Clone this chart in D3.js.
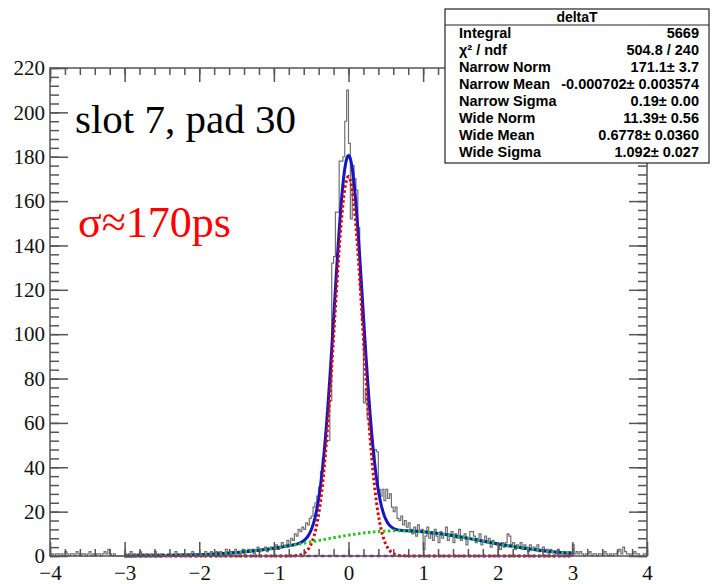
<!DOCTYPE html>
<html>
<head>
<meta charset="utf-8">
<script src="https://cdn.jsdelivr.net/npm/d3@7"></script>
<style>
  body { margin: 0; background: #fff; }
  svg { display: block; }
</style>
</head>
<body>
<div id="canvas"></div>
<script>
// --- data
// histogram counts, 40 bins of 0.025 per unit, from -4 to 4
var binWidth = 0.025;
var countsM4 = [0,1,0,1,1,0,1,0,2,1, 0,1,1,0,2,1,0,1,1,0, 1,2,0,1,0,1,1,0,1,2, 1,3,1,0,1,0,0,0,0,0];
var countsM3 = [1,0,1,2,1,1,0,1,2,1, 0,1,1,0,1,0,2,1,0,1, 1,0,0,1,1,0,1,2,1,0, 1,1,0,1,0,1,2,1,1,0];
var countsM2 = [1,0,1,2,1,1,2,1,0,2, 1,2,1,1,3,1,2,2,1,3, 2,1,2,3,2,2,3,2,3,1, 3,4,2,3,3,4,2,3,4,3];
var countsM1 = [3,5,3,4,6,4,5,7,5,8, 7,10,9,12,11,13,12,15,14,17, 18,22,24,27,31,38,44,50,52,52, 70,132,135,155,155,178,178,180,196,210];
var counts0  = [186,152,176,170,165,148,121,106,69,75, 62,57,50,44,48,47,30,27,30,25, 30,26,28,22,20,22,17,16,18,14, 16,13,15,12,10,13,9,14,11,12];
var counts1  = [3,9,13,8,10,7,12,9,6,11, 8,10,13,7,9,11,6,10,8,12, 7,9,10,5,8,11,11,9,6,8, 10,5,7,9,6,8,4,7,6,5];
var counts2  = [5,3,6,4,6,10,9,5,6,3, 5,4,6,3,5,4,2,5,3,4, 3,5,2,3,4,2,3,1,3,2, 2,1,3,2,1,2,1,1,2,0];
var counts3  = [5,1,2,1,2,1,0,1,1,2, 0,1,1,0,1,1,0,2,1,0, 1,0,1,1,2,3,1,4,2,1, 1,0,1,2,1,1,0,0,1,1];

// fit results (norm, mean, sigma) as printed in the stats box
var narrowPars = [171.1, -0.000702, 0.19];
var widePars = [11.39, 0.6778, 1.092];
var fitRange = [-3, 3];

var xTicks = [-4, -3, -2, -1, 0, 1, 2, 3, 4];
var yTicks = [0, 20, 40, 60, 80, 100, 120, 140, 160, 180, 200, 220];

var statTitle = 'deltaT';
var statLabels = ['Integral', 'χ² / ndf', 'Narrow Norm', 'Narrow Mean', 'Narrow Sigma', 'Wide Norm', 'Wide Mean', 'Wide Sigma'];
var statValues = ['5669', '504.8 / 240', '171.1± 3.7', '-0.000702± 0.003574', '0.19± 0.00', '11.39± 0.56', '0.6778± 0.0360', '1.092± 0.027'];

var counts = [].concat(countsM4, countsM3, countsM2, countsM1, counts0, counts1, counts2, counts3);

// --- layout
var W = 715, H = 584;
var F = {left: 50, right: 647, top: 68, bottom: 556};

var svg = d3.select('#canvas')
  .append('svg')
  .attr('width', W)
  .attr('height', H);

var x = d3.scaleLinear().domain([-4, 4]).range([F.left, F.right]);
var y = d3.scaleLinear().domain([0, 220]).range([F.bottom, F.top]);

// --- histogram outline
var pts = [[-4, 0]];
counts.forEach(function(c, i) {
  var lo = -4 + i * binWidth;
  pts.push([lo, c]);
  pts.push([lo + binWidth, c]);
});
pts.push([4, 0]);

var line = d3.line().x(function(d) { return x(d[0]); }).y(function(d) { return y(d[1]); });

svg.append('path')
  .attr('d', line(pts))
  .attr('fill', 'none')
  .attr('stroke', '#707070')
  .attr('stroke-width', 1.2);

// --- fit functions
function gaus(p, v) { return p[0] * Math.exp(-0.5 * Math.pow((v - p[1]) / p[2], 2)); }
var xs = d3.range(fitRange[0], fitRange[1] + 0.0001, 0.01);

var curve = d3.line()
  .x(function(d) { return x(d[0]); })
  .y(function(d) { return y(d[1]); });

svg.append('path')
  .attr('d', curve(xs.map(function(v) { return [v, gaus(narrowPars, v) + gaus(widePars, v)]; })))
  .attr('fill', 'none').attr('stroke', '#1414c8').attr('stroke-width', 3);

svg.append('path')
  .attr('d', curve(xs.map(function(v) { return [v, gaus(narrowPars, v)]; })))
  .attr('fill', 'none').attr('stroke', '#e00000').attr('stroke-width', 3)
  .attr('stroke-dasharray', '2.5,2.5');

svg.append('path')
  .attr('d', curve(xs.map(function(v) { return [v, gaus(widePars, v)]; })))
  .attr('fill', 'none').attr('stroke', '#22c822').attr('stroke-width', 3)
  .attr('stroke-dasharray', '2.5,2.5');

svg.append('path')
  .attr('d', curve(fitRange.map(function(v) { return [v, 0]; })))
  .attr('fill', 'none').attr('stroke', '#9a2a9a').attr('stroke-width', 2.5)
  .attr('stroke-dasharray', '4,3');

// --- axes
var xMinor = d3.range(-4, 4.0001, 0.2).map(function(v) { return Math.round(v * 10) / 10; });
var yMinor = d3.range(0, 220.001, 4);
var axisCol = '#555';

function styleAxis(g) {
  g.selectAll('path').remove();
  g.selectAll('line').attr('stroke', axisCol).attr('stroke-width', 1.5);
  g.selectAll('text')
    .attr('fill', '#111')
    .style('font-family', '"Liberation Serif", "Times New Roman", serif')
    .style('font-size', '21px');
}

svg.append('g').attr('transform', 'translate(0,' + F.bottom + ')')
  .call(d3.axisBottom(x).tickValues(xMinor).tickSize(-7).tickFormat(''))
  .call(styleAxis);
svg.append('g').attr('transform', 'translate(0,' + F.bottom + ')')
  .call(d3.axisBottom(x).tickValues(xTicks).tickSize(-14).tickPadding(9).tickFormat(d3.format('d')))
  .call(styleAxis);
svg.append('g').attr('transform', 'translate(0,' + F.top + ')')
  .call(d3.axisTop(x).tickValues(xMinor).tickSize(-7).tickFormat(''))
  .call(styleAxis);
svg.append('g').attr('transform', 'translate(0,' + F.top + ')')
  .call(d3.axisTop(x).tickValues(xTicks).tickSize(-14).tickFormat(''))
  .call(styleAxis);

svg.append('g').attr('transform', 'translate(' + F.left + ',0)')
  .call(d3.axisLeft(y).tickValues(yMinor).tickSize(-9).tickFormat(''))
  .call(styleAxis);
svg.append('g').attr('transform', 'translate(' + F.left + ',0)')
  .call(d3.axisLeft(y).tickValues(yTicks).tickSize(-18).tickPadding(5).tickFormat(d3.format('d')))
  .call(styleAxis);
svg.append('g').attr('transform', 'translate(' + F.right + ',0)')
  .call(d3.axisRight(y).tickValues(yMinor).tickSize(-9).tickFormat(''))
  .call(styleAxis);
svg.append('g').attr('transform', 'translate(' + F.right + ',0)')
  .call(d3.axisRight(y).tickValues(yTicks).tickSize(-18).tickFormat(''))
  .call(styleAxis);

// frame
svg.append('rect')
  .attr('x', F.left).attr('y', F.top)
  .attr('width', F.right - F.left).attr('height', F.bottom - F.top)
  .attr('fill', 'none').attr('stroke', axisCol).attr('stroke-width', 1.5);

// --- annotations
svg.append('text')
  .attr('x', 75).attr('y', 133)
  .style('font-family', '"Liberation Serif", "Times New Roman", serif')
  .style('font-size', '41px')
  .attr('fill', '#000')
  .text('slot 7, pad 30');

svg.append('text')
  .attr('x', 78).attr('y', 237)
  .style('font-family', '"Liberation Serif", "Times New Roman", serif')
  .style('font-size', '44px')
  .attr('fill', '#ff0000')
  .text('σ≈170ps');

// --- stats box
var S = {x: 445, y: 9, w: 264, h: 154};
var statFont = '"Liberation Sans", Arial, sans-serif';
var stats = svg.append('g');
stats.append('rect')
  .attr('x', S.x).attr('y', S.y).attr('width', S.w).attr('height', S.h)
  .attr('fill', '#fff').attr('stroke', '#222').attr('stroke-width', 1.2);
stats.append('line')
  .attr('x1', S.x).attr('x2', S.x + S.w).attr('y1', 25).attr('y2', 25)
  .attr('stroke', '#222').attr('stroke-width', 1.2);
stats.append('text')
  .attr('x', S.x + S.w / 2).attr('y', 22)
  .attr('text-anchor', 'middle')
  .style('font-family', statFont)
  .style('font-size', '14px').style('font-weight', 'bold')
  .text(statTitle);

stats.selectAll('.lab').data(statLabels).enter().append('text')
  .attr('class', 'lab')
  .attr('x', 459).attr('y', function(d, i) { return 38 + i * 17; })
  .style('font-family', statFont)
  .style('font-size', '14.5px').style('font-weight', 'bold')
  .text(function(d) { return d; });

stats.selectAll('.val').data(statValues).enter().append('text')
  .attr('class', 'val')
  .attr('x', 699).attr('y', function(d, i) { return 38 + i * 17; })
  .attr('text-anchor', 'end')
  .style('font-family', statFont)
  .style('font-size', '14.5px').style('font-weight', 'bold')
  .text(function(d) { return d; });
</script>
</body>
</html>
